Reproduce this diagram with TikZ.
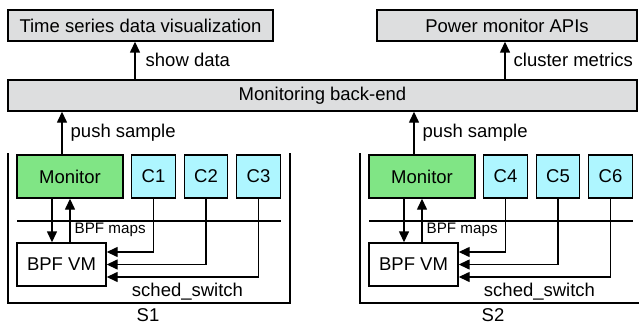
\documentclass[tikz,border=0pt]{standalone}
\usepackage{fontspec}
\setmainfont{Liberation Sans}
\usetikzlibrary{arrows.meta}
\definecolor{boxgray}{RGB}{221,222,223}
\definecolor{mongreen}{RGB}{128,229,133}
\definecolor{ctrcyan}{RGB}{174,246,255}

\begin{document}
\begin{tikzpicture}[x=1pt,y=-1pt,line width=1.4pt,
  every node/.style={font=\fontsize{18.5}{22}\selectfont,inner sep=0pt},
  gbox/.style={draw,fill=boxgray,minimum height=31pt},
  cbox/.style={draw,fill=ctrcyan,minimum width=43.5pt,minimum height=43pt},
  small/.style={font=\fontsize{15.2}{18}\selectfont},
  arr/.style={-{Triangle[length=11pt,width=10pt]}}]
\useasboundingbox (0,0) rectangle (639,326);
\node[gbox,minimum width=265pt] (ts) at (140.5,25.5) {Time series data visualization};
\node[gbox,minimum width=260pt] (pm) at (507,25.5) {Power monitor APIs};
\node[gbox,minimum width=629pt] (be) at (322.5,95.5) {Monitoring back-end};
\draw[arr] (135,0 |- be.north) -- (135,0 |- ts.south);
\node[anchor=west] (sd) at (145,60) {show data};
\draw[arr] (505,0 |- be.north) -- (505,0 |- pm.south);
\node[anchor=west] (cm) at (513,60) {cluster metrics};
\foreach \s/\dx/\lx/\ca/\cb/\cc in {1/0/148/1/2/3,2/352/141/4/5/6}{
\begin{scope}[xshift=\dx pt]
\node[draw,fill=mongreen,minimum width=106pt,minimum height=43pt] (mon\s) at (70,176.5) {Monitor};
\node[cbox] (ca\s) at (153.5,176.5) {C\ca};
\node[cbox] (cb\s) at (206,176.5) {C\cb};
\node[cbox] (cc\s) at (258.5,176.5) {C\cc};
\node[draw,minimum width=89pt,minimum height=43pt] (vm\s) at (61.5,264.5) {BPF VM};
\draw (8,153) -- (8,303) -- (290,303) -- (290,153);
\draw (17,221) -- (281,221);
\draw[arr] (62,0 |- mon\s.north) -- (62,0 |- be.south);
\node[anchor=west] (ps\s) at (70,133) {push sample};
\draw[arr] (52,0 |- mon\s.south) -- (52,0 |- vm\s.north);
\draw[arr] (70,0 |- vm\s.north) -- (70,0 |- mon\s.south);
\node[small,anchor=west] (bm\s) at (74,230) {BPF maps};
\draw[arr] (ca\s.south) |- (vm\s.east |- 0,252);
\draw[arr] (cb\s.south) |- (vm\s.east |- 0,264.5);
\draw[arr] (cc\s.south) |- (vm\s.east |- 0,277);
\node (ss\s) at (187.5,292) {sched\_switch};
\node (sl\s) at (\lx,315) {S\s};
\end{scope}}
\end{tikzpicture}
\end{document}
